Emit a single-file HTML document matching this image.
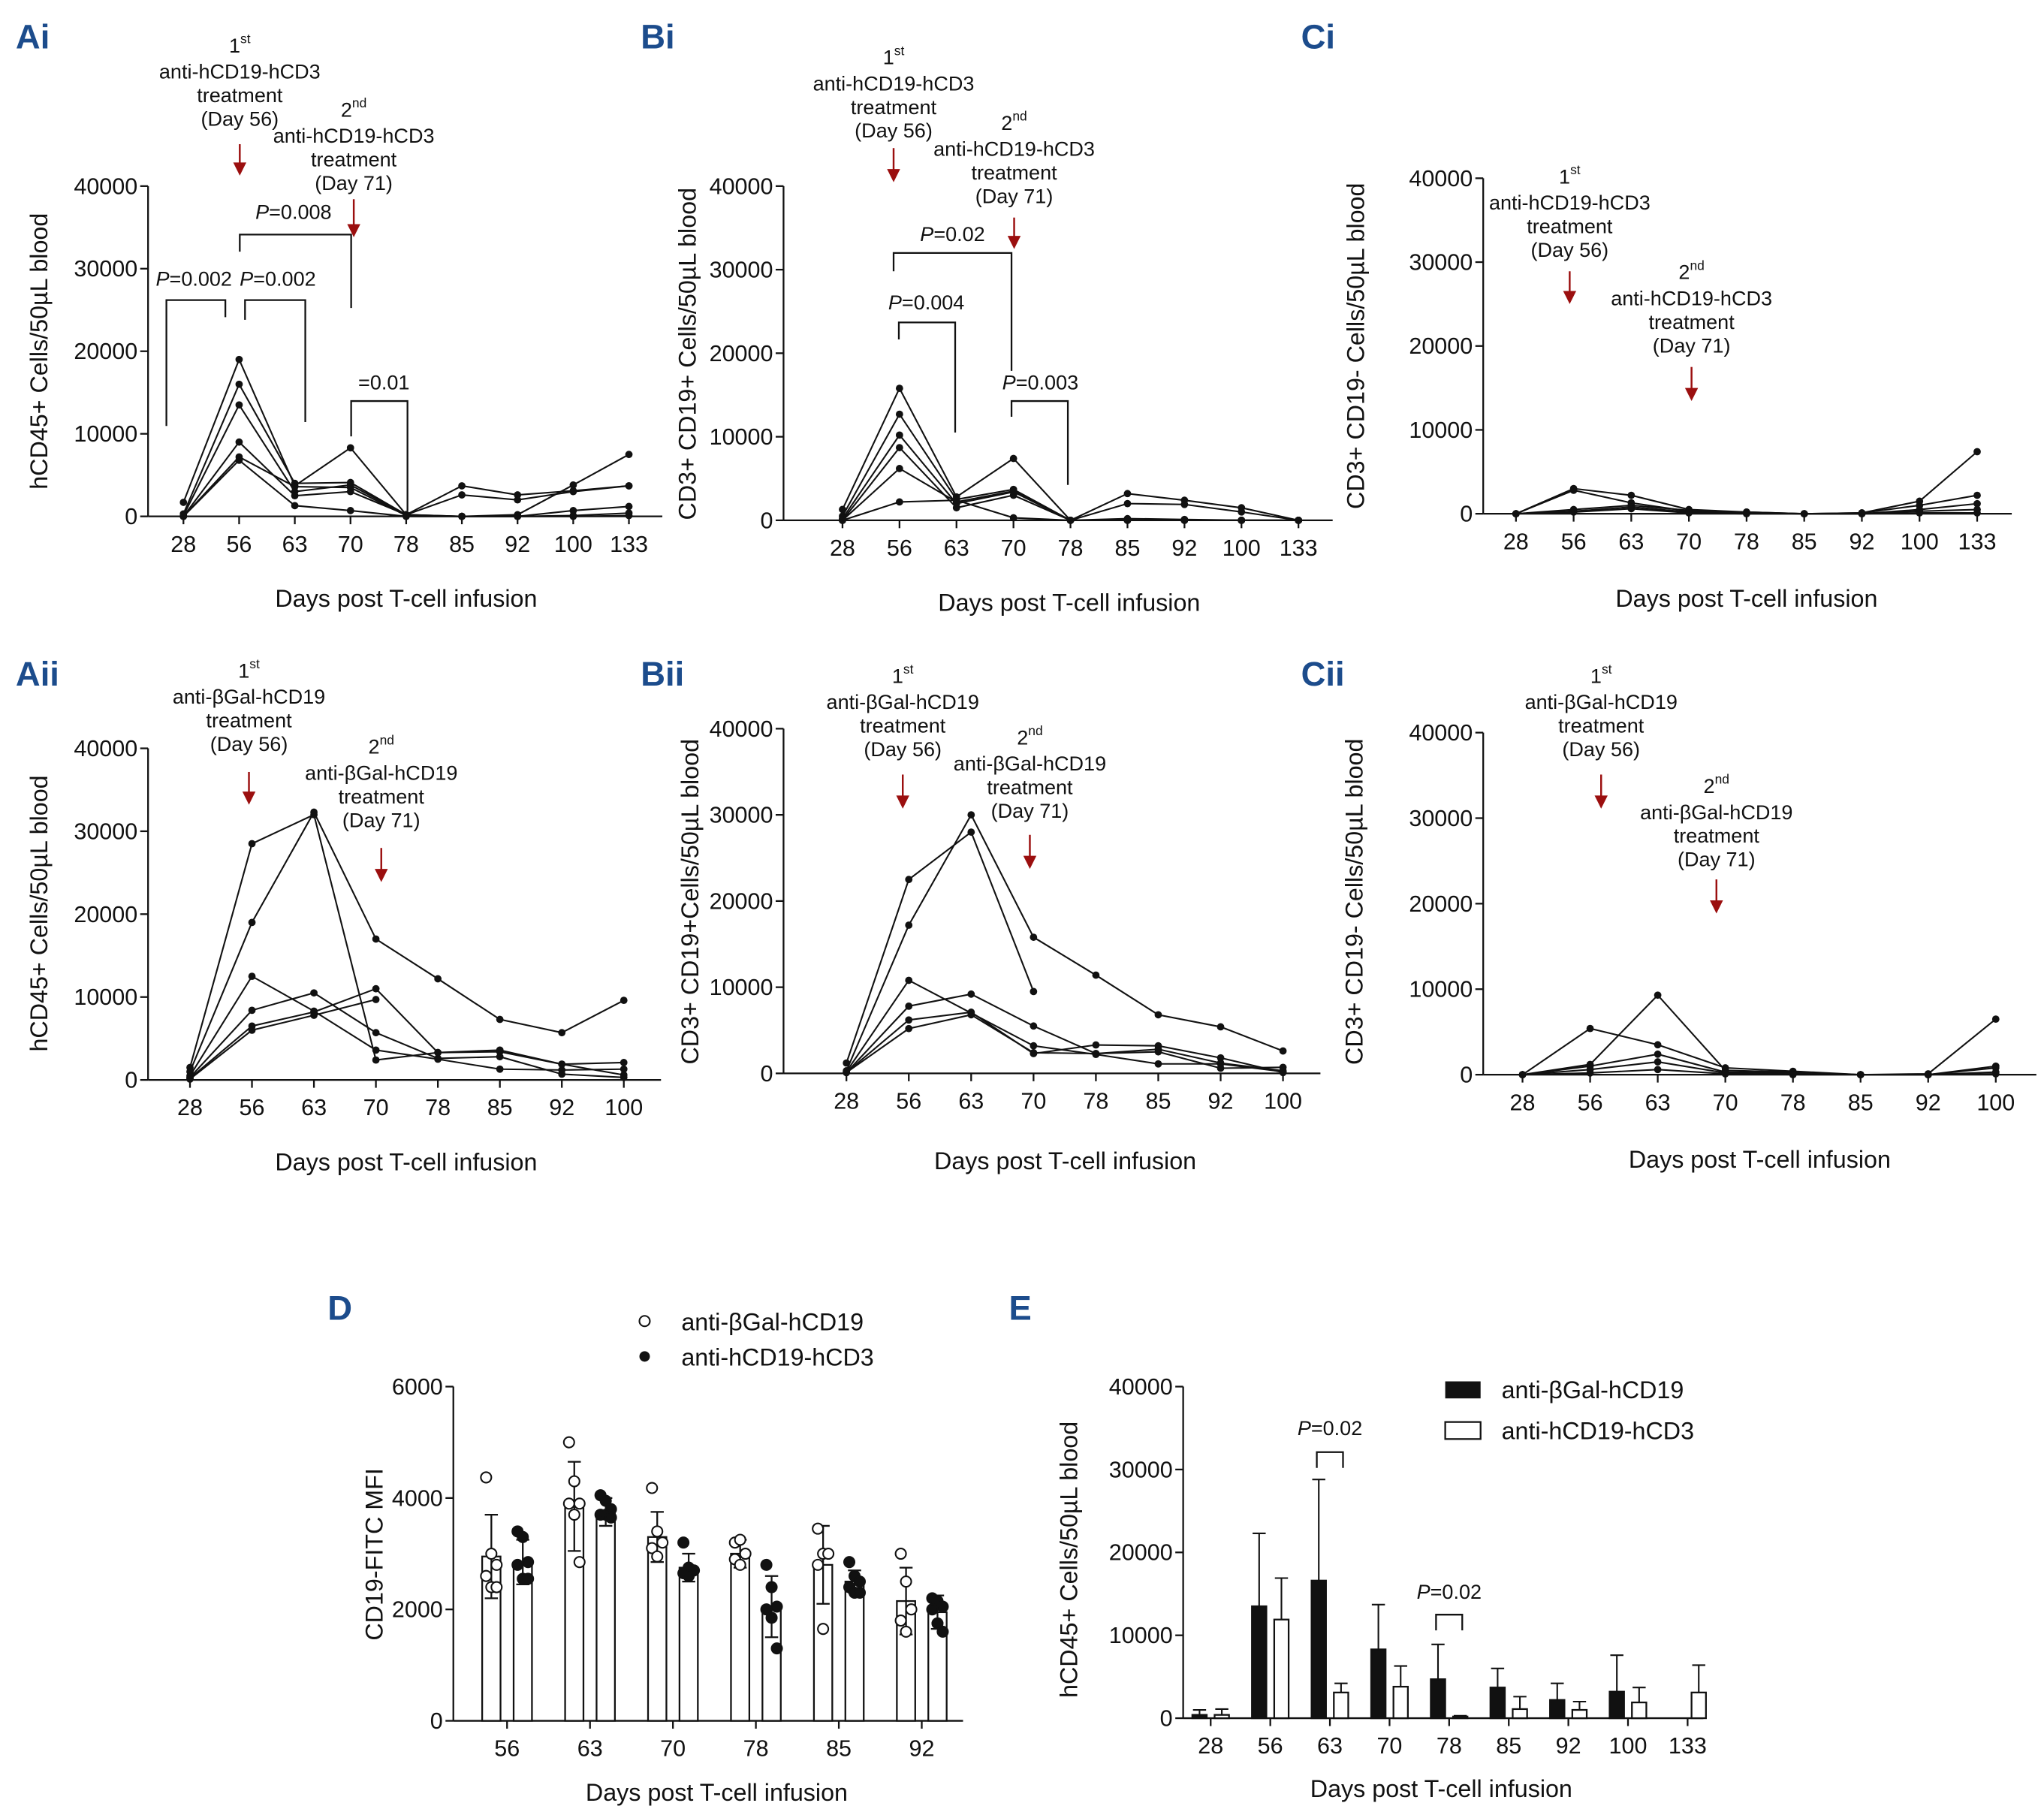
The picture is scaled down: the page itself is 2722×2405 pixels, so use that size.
<!DOCTYPE html>
<html><head><meta charset="utf-8"><style>
html,body{margin:0;padding:0;background:#fff}
svg{display:block}
text{font-family:"Liberation Sans",Arial,sans-serif;fill:#111}
.pl{font-weight:bold;fill:#1c4c8c;font-size:26px}
.an{font-size:15.5px;text-anchor:middle}
.tk{font-size:17.5px}
.tt{font-size:18.5px}
</style></head><body>
<svg id="fig" width="2722" height="2405" viewBox="0 0 1560 1378" preserveAspectRatio="none" xmlns="http://www.w3.org/2000/svg">
</svg>
<script>
// ---------- data ----------
const catsLong=[28,56,63,70,78,85,92,100,133];
const catsShort=[28,56,63,70,78,85,92,100];
const yTicks=[0,10000,20000,30000,40000];
// Ai
const ai1=[1700,19000,3700,8300,200,3700,2600,3100,3700];
const ai2=[300,16000,4000,4100,200,2600,2000,3000,3700];
const ai3=[100,13500,3000,3800,200,0,200,3800,7500];
const ai4=[0,9000,2500,3000,200,0,0,700,1200];
const ai5=[0,7200,3600,3500,100,0,0,100,400];
const ai6=[0,6800,1300,700,0,0,0,0,100];
// Bi
const bi1=[1300,15800,2800,7400,0,3200,2400,1500,0];
const bi2=[500,12700,2500,3700,0,2000,1900,1000,0];
const bi3=[200,10200,2000,3400,0,200,100,0,0];
const bi4=[0,8700,1500,3000,0,0,0,0,0];
const bi5=[0,6200,2200,3500,0,0,0,0,0];
const bi6=[0,2200,2400,300,0,0,0,0,0];
// Ci
const ci1=[0,3000,2200,500,200,0,100,1500,7400];
const ci2=[0,2800,1300,300,200,0,100,1000,2200];
const ci3=[0,500,1000,400,100,0,0,500,1200];
const ci4=[0,300,800,200,100,0,0,300,500];
const ci5=[0,200,600,100,0,0,0,100,100];
// Aii
const aii1=[1500,28500,32000,2400,3300,3400,1900,2100];
const aii2=[1000,19000,32300,17000,12200,7300,5700,9600];
const aii3=[500,12500,8300,3600,2500,1300,1200,1300];
const aii4=[300,8400,10500,5700,2600,2800,700,300];
const aii5=[200,6500,8200,11000,3300,3600,1900,600];
const aii6=[100,6000,7800,9700,null,null,null,null];
// Bii
const bii1=[1200,22500,28000,9500,null,null,null,null];
const bii2=[300,17200,30000,15800,11400,6800,5400,2600];
const bii3=[200,10800,7000,3200,2200,1100,1100,200];
const bii4=[100,7800,9200,5500,2300,2500,600,700];
const bii5=[100,6200,7100,2300,3300,3200,1800,100];
const bii6=[100,5200,6800,2400,2300,2800,1200,300];
// Cii
const cii1=[0,5400,3500,800,400,0,100,6500];
const cii2=[0,1200,9300,500,300,0,0,1000];
const cii3=[0,1000,2400,300,200,0,0,800];
const cii4=[0,600,1500,200,100,0,0,300];
const cii5=[0,200,600,100,0,0,0,100];
// D
const dCats=[56,63,70,78,85,92];
const dTicks=[0,2000,4000,6000];
const dWhiteMean=[2950,3850,3300,3000,2800,2150];
const dWhiteSd=[750,800,450,250,700,600];
const dBlackMean=[2850,3750,2750,2050,2500,1950];
const dBlackSd=[400,250,250,550,200,300];
const dWhitePts=[[4370,3000,2800,2600,2400,2400],[5000,4300,3900,3900,3700,2850],[4180,3400,3200,3100,2950],[3200,3250,3000,2900,2800],[3450,3000,3000,2800,1650],[3000,2500,2000,1800,1600]];
const dBlackPts=[[3400,3300,2850,2800,2550,2550],[4050,3950,3800,3700,3700,3650],[3200,2750,2700,2650,2600],[2800,2400,2050,2000,1850,1300],[2850,2600,2500,2400,2300,2300],[2200,2150,2050,2000,1750,1600]];
// E
const eCats=[28,56,63,70,78,85,92,100,133];
const eBlackMean=[400,13500,16600,8300,4700,3700,2200,3200,0];
const eBlackSd=[600,8800,12200,5400,4200,2300,2000,4400,0];
const eWhiteMean=[400,11900,3100,3800,200,1100,1000,1900,3100];
const eWhiteSd=[700,5000,1100,2500,100,1500,1000,1800,3300];

// ---------- drawing ----------
const svg=document.getElementById('fig');
const NS='http://www.w3.org/2000/svg';
function mk(tag,attrs,parent){const e=document.createElementNS(NS,tag);for(const k in attrs)e.setAttribute(k,attrs[k]);(parent||svg).appendChild(e);return e;}
function txt(x,y,s,cls,anchor,parent){const t=mk('text',{x:x,y:y,class:cls,'text-anchor':anchor||'start'},parent);t.textContent=s;return t;}

function axes(g,ax,yTop,yBot,ymax,ticks,xEnd,cats,xOf){
  const yS=v=>yBot-v/ymax*(yBot-yTop);
  const yl=mk('line',{x1:ax,y1:yTop,x2:ax,y2:yBot,stroke:'#111','stroke-width':1.3},g);
  
  
  ticks.forEach(t=>{
    mk('line',{x1:ax-6,y1:yS(t),x2:ax,y2:yS(t),stroke:'#111','stroke-width':1.3},g);
    const l=txt(ax-8,yS(t)+6,String(t),'tk','end',g);
    
    
  });
  const xl=mk('line',{x1:ax,y1:yBot,x2:xEnd,y2:yBot,stroke:'#111','stroke-width':1.3},g);
  
  
  cats.forEach((c,i)=>{
    const x=xOf(i);
    mk('line',{x1:x,y1:yBot,x2:x,y2:yBot+6,stroke:'#111','stroke-width':1.3},g);
    const l=txt(x,yBot+27,String(c),'tk','middle',g);
    
    
  });
  return yS;
}
function titles(g,xt,xy,xs,yx,yc,ys){
  const a=txt(xt,xy,xs,'tt','middle',g);
  
  
  const b=txt(0,0,ys,'tt','middle',g);
  b.setAttribute('transform',`translate(${yx},${yc}) rotate(-90)`);
  
  
}
function linePanel(name,cfg,cats,series){
  const g=mk('g',{});
  
  
  const xOf=i=>cfg.x0+i*cfg.step;
  const yS=axes(g,cfg.ax,cfg.yTop,cfg.yBot,40000,yTicks,xOf(cats.length-1)+cfg.step*0.6,cats,xOf);
  series.forEach((s,si)=>{
    let d='',pen=false;
    s.forEach((v,i)=>{ if(v==null){pen=false;return;} d+=(pen?'L':'M')+xOf(i)+' '+yS(v)+' ';pen=true;});
    const p=mk('path',{d:d,fill:'none',stroke:'#111','stroke-width':1.2},g);
    
    
    s.forEach((v,i)=>{ if(v==null)return;
      const c=mk('circle',{cx:xOf(i),cy:yS(v),r:2.8,fill:'#111'},g);
      
      
    });
  });
  titles(g,cfg.xt[0],cfg.xt[1],'Days post T-cell infusion',cfg.yt[0],cfg.yt[1],cfg.ytitle);
}
linePanel('panel-ai',{ax:113,yTop:142,yBot:394,x0:140,step:42.5,xt:[310,463],yt:[36,268],ytitle:'hCD45+ Cells/50µL blood'},catsLong,[ai1,ai2,ai3,ai4,ai5,ai6]);
linePanel('panel-bi',{ax:598,yTop:142,yBot:397,x0:643,step:43.5,xt:[816,466],yt:[531,270],ytitle:'CD3+ CD19+ Cells/50µL blood'},catsLong,[bi1,bi2,bi3,bi4,bi5,bi6]);
linePanel('panel-ci',{ax:1132,yTop:136,yBot:392,x0:1157,step:44,xt:[1333,463],yt:[1041,264],ytitle:'CD3+ CD19- Cells/50µL blood'},catsLong,[ci1,ci2,ci3,ci4,ci5]);
linePanel('panel-aii',{ax:113,yTop:571,yBot:824,x0:145,step:47.3,xt:[310,893],yt:[36,697],ytitle:'hCD45+ Cells/50µL blood'},catsShort,[aii1,aii2,aii3,aii4,aii5,aii6]);
linePanel('panel-bii',{ax:598,yTop:556,yBot:819,x0:646,step:47.6,xt:[813,892],yt:[533,688],ytitle:'CD3+ CD19+Cells/50µL blood'},catsShort,[bii1,bii2,bii3,bii4,bii5,bii6]);
linePanel('panel-cii',{ax:1132,yTop:559,yBot:820,x0:1162,step:51.6,xt:[1343,891],yt:[1040,688],ytitle:'CD3+ CD19- Cells/50µL blood'},catsShort,[cii1,cii2,cii3,cii4,cii5]);

// annotations
function annot(x,y,ord,sup,drug,ay1,ay2){
  const g=mk('g',{});
  
  
  const t=mk('text',{x:x,y:y,class:'an'},g);
  t.textContent=ord;
  const s=mk('tspan',{dy:-7,'font-size':10},t); s.textContent=sup;
  txt(x,y+20,drug,'an','middle',g);
  txt(x,y+38,'treatment','an','middle',g);
  txt(x,y+56,'(Day '+(ord==='1'?'56':'71')+')','an','middle',g);
  mk('line',{x1:x,y1:ay1,x2:x,y2:ay2-8,stroke:'#9b0f0f','stroke-width':1.4},g);
  mk('polygon',{points:`${x-5},${ay2-10} ${x+5},${ay2-10} ${x},${ay2}`,fill:'#9b0f0f'},g);
}
const D1='anti-hCD19-hCD3', D2='anti-βGal-hCD19';
annot(183,40,'1','st',D1,110,134); annot(270,89,'2','nd',D1,152,181);
annot(682,49,'1','st',D1,113,139); annot(774,99,'2','nd',D1,166,190);
annot(1198,140,'1','st',D1,207,232); annot(1291,213,'2','nd',D1,280,306);
annot(190,517,'1','st',D2,589,614); annot(291,575,'2','nd',D2,647,673);
annot(689,521,'1','st',D2,591,617); annot(786,568,'2','nd',D2,637,663);
annot(1222,521,'1','st',D2,591,617); annot(1310,605,'2','nd',D2,671,697);

function bracket(x1,x2,top,l,r,label,tx,ty){
  const g=mk('g',{});
  
  
  mk('path',{d:`M${x1} ${l} L${x1} ${top} L${x2} ${top} L${x2} ${r}`,fill:'none',stroke:'#111','stroke-width':1.3},g);
  const t=mk('text',{x:tx,y:ty,class:'an'},g);
  if(label[0]==='P'){const i=mk('tspan',{'font-style':'italic'},t);i.textContent='P';const r2=mk('tspan',{},t);r2.textContent=label.slice(1);}
  else t.textContent=label;
}
bracket(183,268,179,192,235,'P=0.008',224,167);
bracket(127,172,229,325,242,'P=0.002',148,218);
bracket(187,233,229,244,322,'P=0.002',212,218);
bracket(268,311,306,333,390,'=0.01',293,297);
bracket(682,772,193,207,283,'P=0.02',727,184);
bracket(686,729,246,259,330,'P=0.004',707,236);
bracket(772,815,306,318,370,'P=0.003',794,297);

// panel labels
[['Ai',12,37],['Bi',489,37],['Ci',993,37],['Aii',12,523],['Bii',489,523],['Cii',993,523],['D',250,1007],['E',770,1007]].forEach(p=>{
  const t=txt(p[1],p[2],p[0],'pl','start');
  
  
});

// Panel D
(function(){
  const g=mk('g',{});
  
  
  const ax=346,yTop=1058,yBot=1313;
  const xOf=i=>387+i*63.3;
  const yS=axes(g,ax,yTop,yBot,6000,dTicks,735,dCats,xOf);
  function bar(x,m,sd,pts,fillPt,nm){
    const r=mk('rect',{x:x,y:yS(m),width:14,height:yBot-yS(m),fill:'#fff',stroke:'#111','stroke-width':1.3},g);
    
    
    const cx=x+7;
    mk('path',{d:`M${cx} ${yS(m-sd)} L${cx} ${yS(m+sd)} M${cx-5} ${yS(m+sd)} L${cx+5} ${yS(m+sd)} M${cx-5} ${yS(m-sd)} L${cx+5} ${yS(m-sd)}`,stroke:'#111','stroke-width':1.3,fill:'none'},g);
    pts.forEach((v,k)=>{
      const c=mk('circle',{cx:cx+((k%3)-1)*4,cy:yS(v),r:4,fill:fillPt?'#111':'#fff',stroke:'#111','stroke-width':1.2},g);
      
      
    });
  }
  dCats.forEach((c,i)=>{
    bar(xOf(i)-19,dWhiteMean[i],dWhiteSd[i],dWhitePts[i],false,'bar-bgal-'+c);
    bar(xOf(i)+5,dBlackMean[i],dBlackSd[i],dBlackPts[i],true,'bar-hcd3-'+c);
  });
  titles(g,547,1374,'Days post T-cell infusion',292,1186,'CD19-FITC MFI');
  const l1=mk('circle',{cx:492,cy:1008,r:4,fill:'#fff',stroke:'#111','stroke-width':1.2},g);
  
  
  const l2=mk('circle',{cx:492,cy:1035,r:4,fill:'#111'},g);
  
  
  const t1=txt(520,1015,'anti-βGal-hCD19','tt','start',g);
  
  
  const t2=txt(520,1042,'anti-hCD19-hCD3','tt','start',g);
  
  
})();

// Panel E
(function(){
  const g=mk('g',{});
  
  
  const ax=903,yTop=1058,yBot=1311;
  const xOf=i=>924+i*45.5;
  const yS=axes(g,ax,yTop,yBot,40000,yTicks,1300,eCats,xOf);
  function bar(x,m,sd,black,nm){
    const cx=x+5.5;
    if(sd>0) mk('path',{d:`M${cx} ${yS(m)} L${cx} ${yS(m+sd)} M${cx-5} ${yS(m+sd)} L${cx+5} ${yS(m+sd)}`,stroke:'#111','stroke-width':1.2,fill:'none'},g);
    const r=mk('rect',{x:x,y:yS(m),width:11,height:yBot-yS(m),fill:black?'#111':'#fff',stroke:'#111','stroke-width':1.3},g);
    
    
  }
  eCats.forEach((c,i)=>{
    if(eBlackMean[i]>0) bar(xOf(i)-14,eBlackMean[i],eBlackSd[i],true,'bar-bgal-'+c);
    bar(xOf(i)+3,eWhiteMean[i],eWhiteSd[i],false,'bar-hcd3-'+c);
  });
  titles(g,1100,1371,'Days post T-cell infusion',822,1190,'hCD45+ Cells/50µL blood');
  const x63=xOf(2), x78=xOf(4);
  mk('path',{d:`M${x63-10} ${1120} L${x63-10} 1108 L${x63+10} 1108 L${x63+10} 1120`,fill:'none',stroke:'#111','stroke-width':1.3},g);
  mk('path',{d:`M${x78-10} ${1244} L${x78-10} 1232 L${x78+10} 1232 L${x78+10} 1244`,fill:'none',stroke:'#111','stroke-width':1.3},g);
  [[x63,1095],[x78,1220]].forEach(p=>{
    const t=mk('text',{x:p[0],y:p[1],class:'an'},g);
    const i=mk('tspan',{'font-style':'italic'},t);i.textContent='P';
    const r=mk('tspan',{},t);r.textContent='=0.02';
    
    
  });
  const r1=mk('rect',{x:1103,y:1054,width:27,height:13,fill:'#111'},g);
  
  
  const r2=mk('rect',{x:1103,y:1085,width:27,height:13,fill:'#fff',stroke:'#111','stroke-width':1.3},g);
  
  
  const t1=txt(1146,1067,'anti-βGal-hCD19','tt','start',g);
  
  
  const t2=txt(1146,1098,'anti-hCD19-hCD3','tt','start',g);
  
  
})();
</script>
</body></html>
